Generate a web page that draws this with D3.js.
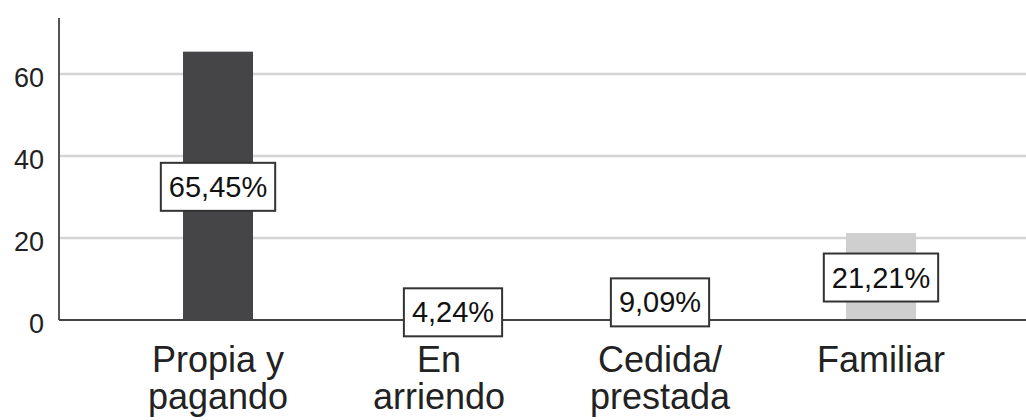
<!DOCTYPE html>
<html>
<head>
<meta charset="utf-8">
<script src="https://cdn.jsdelivr.net/npm/d3@7"></script>
<style>
  body { margin: 0; background: #fff; }
  svg { display: block; font-family: "Liberation Sans", Arial, sans-serif; }
</style>
</head>
<body>
<svg id="chart"></svg>
<script>
var width = 1026, height = 420;

// data
var categories = [["Propia y", "pagando"], ["En", "arriendo"], ["Cedida/", "prestada"], ["Familiar"]];
var percents = [65.45, 4.24, 9.09, 21.21];
var labels = ["65,45%", "4,24%", "9,09%", "21,21%"];
var yTicks = [0, 20, 40, 60];
var barColors = ["#454547", "#707072", "#a0a0a2", "#cfcfcf"];

var svg = d3.select("#chart")
    .attr("width", width)
    .attr("height", height);

var plotLeft = 59, plotRight = width, plotBase = 320, plotTop = 18;

var x = d3.scaleBand()
    .domain(d3.range(categories.length))
    .range([107.5, 991.5])
    .paddingInner(0.6833)
    .paddingOuter(0.3417);

function cx(i) { return x(i) + x.bandwidth() / 2; }

var y = d3.scaleLinear()
    .domain([0, 73.66])
    .range([plotBase, plotTop]);

// gridlines
svg.append("g")
  .selectAll("line")
  .data(yTicks.filter(function(d){ return d > 0; }))
  .enter()
  .append("line")
    .attr("x1", plotLeft)
    .attr("x2", plotRight)
    .attr("y1", function(d){ return y(d); })
    .attr("y2", function(d){ return y(d); })
    .attr("stroke", "#d4d4d4")
    .attr("stroke-width", 2.5);

// tick labels
svg.append("g")
  .selectAll("text")
  .data(yTicks)
  .enter()
  .append("text")
    .attr("x", 44)
    .attr("y", function(d){ return y(d) + 6; })
    .attr("text-anchor", "end")
    .attr("dominant-baseline", "middle")
    .attr("font-size", "27px")
    .attr("fill", "#222")
    .text(function(d){ return d; });

// bars
svg.append("g")
  .selectAll("rect")
  .data(percents)
  .enter()
  .append("rect")
    .attr("x", function(d, i){ return x(i); })
    .attr("width", x.bandwidth())
    .attr("y", function(d){ return y(d); })
    .attr("height", function(d){ return plotBase - y(d); })
    .attr("fill", function(d, i){ return barColors[i]; });

// axis lines
svg.append("line")
    .attr("x1", plotLeft).attr("x2", plotLeft)
    .attr("y1", plotTop).attr("y2", plotBase)
    .attr("stroke", "#555").attr("stroke-width", 2);
svg.append("line")
    .attr("x1", plotLeft).attr("x2", plotRight)
    .attr("y1", plotBase).attr("y2", plotBase)
    .attr("stroke", "#444").attr("stroke-width", 2);

// value labels in boxes, centred at mid bar
var labelShift = [0, 14, 0, 0];
var lab = svg.append("g")
  .selectAll("g")
  .data(percents)
  .enter()
  .append("g")
    .attr("transform", function(d, i){
      return "translate(" + (cx(i) + labelShift[i]) + "," + (y(d / 2) + 1) + ")";
    });

lab.append("rect");
lab.append("text")
    .attr("text-anchor", "middle")
    .attr("dominant-baseline", "central")
    .attr("font-size", "29px")
    .attr("fill", "#111")
    .text(function(d, i){ return labels[i]; });

lab.each(function(){
  var g = d3.select(this);
  var w = g.select("text").node().getComputedTextLength() + 16;
  g.select("rect")
    .attr("x", -w / 2)
    .attr("y", -24)
    .attr("width", w)
    .attr("height", 48)
    .attr("fill", "#fff")
    .attr("stroke", "#333")
    .attr("stroke-width", 2);
});

// category labels
var cat = svg.append("g")
  .selectAll("text")
  .data(categories)
  .enter()
  .append("text")
    .attr("x", function(d, i){ return cx(i); })
    .attr("y", 372)
    .attr("text-anchor", "middle")
    .attr("font-size", "36px")
    .attr("fill", "#222");

cat.selectAll("tspan")
  .data(function(d){ return d; })
  .enter()
  .append("tspan")
    .attr("x", function(){ return d3.select(this.parentNode).attr("x"); })
    .attr("dy", function(d, j){ return j === 0 ? 0 : 37; })
    .text(function(d){ return d; });
</script>
</body>
</html>
